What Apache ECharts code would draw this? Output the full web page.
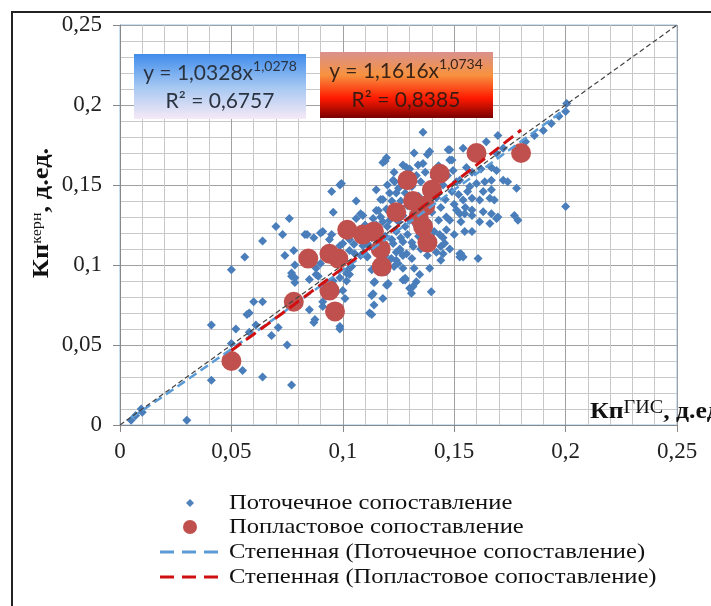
<!DOCTYPE html>
<html>
<head>
<meta charset="utf-8">
<script src="https://cdn.jsdelivr.net/npm/echarts@6/dist/echarts.min.js"></script>
<style>
  html, body { margin: 0; padding: 0; background: #fff; }
  #chart { width: 711px; height: 606px; }
</style>
</head>
<body>
<div id="chart"></div>
<script>
// Поточечное сопоставление: [Кп ГИС, Кп керн]
const pointwise = [
  [0.005,0.003],[0.007,0.006],[0.010,0.008],[0.0095,0.010],[0.030,0.003],
  [0.041,0.028],[0.041,0.0625],[0.050,0.051],[0.052,0.060],[0.055,0.034],
  [0.050,0.097],[0.056,0.105],[0.057,0.069],[0.058,0.070],[0.058,0.058],
  [0.060,0.077],[0.064,0.077],[0.061,0.0625],[0.064,0.030],[0.064,0.115],
  [0.068,0.056],[0.070,0.124],[0.071,0.061],[0.073,0.119],[0.074,0.106],
  [0.075,0.050],[0.076,0.129],[0.077,0.025],[0.077,0.093],[0.0785,0.089],
  [0.078,0.109],[0.0785,0.100],[0.077,0.095],[0.0785,0.092],
  [0.084,0.119],[0.083,0.119],[0.085,0.072],[0.085,0.091],[0.087,0.064],[0.087,0.117],[0.0875,0.066],
  [0.088,0.098],[0.088,0.094],[0.089,0.093],[0.090,0.101],[0.090,0.120],[0.091,0.077],[0.091,0.074],[0.091,0.121],
  [0.094,0.116],[0.095,0.119],[0.095,0.146],[0.0957,0.133],[0.0957,0.090],[0.097,0.083],[0.0987,0.150],[0.0994,0.151],
  [0.0987,0.060],[0.0987,0.0615],[0.0987,0.112],[0.0987,0.101],[0.0987,0.092],[0.100,0.084],[0.100,0.105],[0.100,0.1135],
  [0.101,0.079],[0.1017,0.0948],[0.103,0.094],[0.1017,0.090],[0.1024,0.097],[0.103,0.116],[0.103,0.109],[0.104,0.124],[0.104,0.099],[0.1054,0.107],
  [0.106,0.129],[0.106,0.140],[0.108,0.132],[0.108,0.106],[0.109,0.131],[0.110,0.125],[0.111,0.105],[0.1106,0.106],[0.111,0.1135],[0.112,0.1115],
  [0.112,0.070],[0.113,0.069],[0.113,0.081],[0.1136,0.129],[0.1136,0.082],[0.114,0.075],[0.1143,0.0896],[0.114,0.089],[0.115,0.134],[0.115,0.147],
  [0.116,0.134],[0.117,0.130],[0.118,0.079],[0.118,0.141],[0.118,0.164],[0.119,0.165],[0.1196,0.167],[0.1196,0.135],[0.1196,0.0875],[0.1196,0.096],
  [0.120,0.0875],[0.1204,0.0885],[0.121,0.133],[0.121,0.145],[0.122,0.140],[0.1218,0.104],[0.1226,0.153],[0.1226,0.1135],[0.1233,0.152],[0.123,0.099],
  [0.124,0.103],[0.124,0.145],[0.1248,0.101],[0.1256,0.109],[0.1256,0.110],[0.127,0.1625],[0.127,0.106],[0.127,0.1146],[0.127,0.098],[0.127,0.0906],
  [0.128,0.0906],[0.128,0.0917],[0.1286,0.161],[0.1286,0.107],[0.130,0.0854],[0.1308,0.0823],[0.1315,0.0865],[0.1316,0.1115],[0.132,0.098],[0.132,0.170],
  [0.133,0.0896],[0.1338,0.1625],[0.1345,0.094],[0.136,0.183],[0.136,0.1635],[0.138,0.169],[0.139,0.171],[0.139,0.098],[0.1397,0.0833],[0.1435,0.119],
  [0.144,0.1115],[0.144,0.103],[0.145,0.107],[0.1457,0.1136],[0.1465,0.122],[0.1465,0.130],[0.1473,0.172],[0.148,0.1656],[0.148,0.172],[0.149,0.1656],
  [0.1495,0.159],[0.151,0.1344],[0.1525,0.132],[0.1525,0.153],[0.1525,0.107],[0.1525,0.105],[0.153,0.107],[0.154,0.173],[0.154,0.1406],[0.154,0.105],
  [0.1547,0.132],[0.1547,0.121],[0.1555,0.161],[0.157,0.149],[0.158,0.158],[0.158,0.1417],[0.158,0.1344],[0.158,0.131],[0.158,0.121],[0.160,0.151],
  [0.1607,0.104],[0.1614,0.1406],[0.1614,0.127],[0.162,0.160],[0.163,0.146],[0.163,0.1333],[0.1637,0.152],[0.1644,0.177],[0.166,0.1417],[0.166,0.126],
  [0.1667,0.161],[0.1667,0.153],[0.1667,0.147],[0.1667,0.132],[0.168,0.1406],[0.169,0.1698],[0.169,0.159],[0.169,0.129],[0.1696,0.181],[0.1696,0.130],
  [0.172,0.173],[0.172,0.153],[0.174,0.152],[0.177,0.131],[0.178,0.148],[0.1786,0.128],[0.182,0.177],[0.186,0.181],[0.190,0.184],[0.1936,0.1885],
  [0.197,0.193],[0.200,0.196],[0.2005,0.201],[0.200,0.1365],
  [0.112,0.122],[0.113,0.117],[0.115,0.125],[0.116,0.119],[0.117,0.141],[0.118,0.127],[0.119,0.118],[0.120,0.150],[0.120,0.124],[0.121,0.128],
  [0.122,0.116],[0.123,0.135],[0.123,0.158],[0.124,0.121],[0.125,0.127],[0.125,0.148],[0.126,0.140],[0.126,0.117],[0.127,0.155],[0.127,0.131],
  [0.128,0.124],[0.128,0.145],[0.129,0.119],[0.129,0.137],[0.130,0.128],[0.130,0.160],[0.131,0.149],[0.131,0.114],[0.132,0.133],[0.133,0.125],
  [0.133,0.156],[0.134,0.143],[0.134,0.118],[0.135,0.130],[0.135,0.152],[0.136,0.122],[0.137,0.139],[0.137,0.158],[0.138,0.127],[0.139,0.148],
  [0.139,0.113],[0.140,0.133],[0.141,0.155],[0.141,0.121],[0.142,0.142],[0.143,0.128],[0.143,0.162],[0.144,0.136],[0.145,0.150],[0.146,0.141],
  [0.147,0.156],[0.148,0.128],[0.149,0.146],[0.150,0.138],[0.150,0.119],[0.151,0.152],[0.152,0.144],[0.153,0.127],[0.155,0.136],[0.156,0.146],
  [0.145,0.117],[0.148,0.110],[0.142,0.108],[0.138,0.106],[0.135,0.110],[0.131,0.104],[0.124,0.108],[0.119,0.106],[0.116,0.102],[0.113,0.097],
  [0.109,0.112],[0.107,0.118],[0.105,0.113]
];

// Попластовое сопоставление: [Кп ГИС, Кп керн]
const layerwise = [
  [0.050,0.040],[0.078,0.077],[0.0845,0.104],[0.094,0.084],[0.0965,0.071],
  [0.094,0.107],[0.098,0.104],[0.102,0.122],[0.109,0.119],[0.114,0.121],
  [0.117,0.110],[0.1175,0.099],[0.124,0.133],[0.129,0.153],[0.1315,0.140],
  [0.134,0.130],[0.136,0.124],[0.138,0.114],[0.140,0.147],[0.1435,0.157],
  [0.137,0.137],[0.160,0.170],[0.180,0.170]
];

// Power trend coefficients y = a·x^b and the x-range they cover
const pointwiseFit = [1.0328, 1.0278];
const pointwiseFitRange = [0.005, 0.2];
const layerwiseFit = [1.1616, 1.0734];
const layerwiseFitRange = [0.05, 0.18];

// Reference 1:1 line
const equalityLine = [[0, 0], [0.25, 0.25]];

const axisMin = 0, axisMax = 0.25, axisStep = 0.05;

function powerCurve(coef, range, steps) {
  const out = [];
  for (let i = 0; i <= steps; i++) {
    const x = range[0] + (range[1] - range[0]) * i / steps;
    out.push([x, coef[0] * Math.pow(x, coef[1])]);
  }
  return out;
}

const serif = 'Liberation Serif';
const comma = v => String(+v.toFixed(2)).replace('.', ',');

const chart = echarts.init(document.getElementById('chart'), null, { renderer: 'canvas' });

const legendRows = [
  { y: 503, text: 'Поточечное сопоставление' },
  { y: 527, text: 'Попластовое сопоставление' },
  { y: 552, text: 'Степенная (Поточечное сопоставление)' },
  { y: 577, text: 'Степенная (Попластовое сопоставление)' }
];

const graphics = [
  // outer frame
  { type: 'rect', shape: { x: 12, y: 12, width: 720, height: 620 }, style: { fill: 'none', stroke: '#222', lineWidth: 2 }, z: 100 },
  // equation box (points)
  { type: 'rect', shape: { x: 134, y: 54, width: 172, height: 65 },
    style: { fill: new echarts.graphic.LinearGradient(0, 0, 0, 1, [
      { offset: 0, color: '#3f8cec' }, { offset: 0.5, color: '#a4c7f2' }, { offset: 1, color: '#f6e9f6' }]) }, z: 50 },
  { type: 'text', x: 220, y: 59, z: 51,
    style: { text: '{a|y = 1,0328x}{s|1,0278}', align: 'center', verticalAlign: 'top',
      rich: { a: { fontFamily: 'Lato', fontSize: 21, lineHeight: 28, fill: '#2a3340' },
              s: { fontFamily: 'Lato', fontSize: 14, lineHeight: 13, verticalAlign: 'top', fill: '#2a3340' } } } },
  { type: 'text', x: 220, y: 101, z: 51,
    style: { text: 'R² = 0,6757', align: 'center', verticalAlign: 'middle', fontFamily: 'Lato', fontSize: 21, fill: '#2a3340' } },
  // equation box (layers)
  { type: 'rect', shape: { x: 320, y: 52, width: 173, height: 66 },
    style: { fill: new echarts.graphic.LinearGradient(0, 0, 0, 1, [
      { offset: 0, color: '#d9918c' }, { offset: 0.35, color: '#f7923f' }, { offset: 0.7, color: '#ff1a00' }, { offset: 1, color: '#7a0000' }]) }, z: 50 },
  { type: 'text', x: 406, y: 57, z: 51,
    style: { text: '{a|y = 1,1616x}{s|1,0734}', align: 'center', verticalAlign: 'top',
      rich: { a: { fontFamily: 'Lato', fontSize: 21, lineHeight: 28, fill: '#3a2418' },
              s: { fontFamily: 'Lato', fontSize: 14, lineHeight: 13, verticalAlign: 'top', fill: '#3a2418' } } } },
  { type: 'text', x: 406, y: 100, z: 51,
    style: { text: 'R² = 0,8385', align: 'center', verticalAlign: 'middle', fontFamily: 'Lato', fontSize: 21, fill: '#3a1a10' } },
  // y axis title
  { type: 'text', x: 42, y: 213, rotation: Math.PI / 2, scaleX: 1.15, z: 51,
    style: { text: '{b|Кп}{s|керн}{b|, д.ед.}', align: 'center', verticalAlign: 'middle',
      rich: { b: { fontFamily: serif, fontWeight: 'bold', fontSize: 23, fill: '#111' },
              s: { fontFamily: serif, fontSize: 14, verticalAlign: 'top', lineHeight: 12, fill: '#111' } } } },
  // x axis title
  { type: 'text', x: 590, y: 412, scaleX: 1.12, z: 51,
    style: { text: '{b|Кп}{s|ГИС}{b|, д.ед.}', align: 'left', verticalAlign: 'middle',
      rich: { b: { fontFamily: serif, fontWeight: 'bold', fontSize: 23, lineHeight: 26, fill: '#111' },
              s: { fontFamily: serif, fontSize: 18, verticalAlign: 'top', lineHeight: 15, fill: '#111' } } } }
];

// legend markers and captions
graphics.push({ type: 'polygon', shape: { points: [[190, 499], [194, 503], [190, 507], [186, 503]] }, style: { fill: '#4f81bd' }, z: 51 });
graphics.push({ type: 'circle', shape: { cx: 190, cy: 527, r: 7 }, style: { fill: '#c0504d' }, z: 51 });
graphics.push({ type: 'line', shape: { x1: 160, y1: 552, x2: 226, y2: 552 }, style: { stroke: '#5b9bd5', lineWidth: 3, lineDash: [14, 8] }, z: 51 });
graphics.push({ type: 'line', shape: { x1: 160, y1: 577, x2: 226, y2: 577 }, style: { stroke: '#d01010', lineWidth: 3, lineDash: [14, 8] }, z: 51 });
legendRows.forEach(r => graphics.push({ type: 'text', x: 229, y: r.y, scaleX: 1.17, z: 51,
  style: { text: r.text, fontFamily: serif, fontSize: 21, fill: '#111', verticalAlign: 'middle' } }));

const valueAxis = (extra) => Object.assign({
  type: 'value', min: axisMin, max: axisMax, interval: axisStep,
  axisLine: { show: true, lineStyle: { color: '#888', width: 1 } },
  axisTick: { show: true, length: 7, lineStyle: { color: '#888' } },
  splitLine: { show: true, lineStyle: { color: '#a0a0a0', width: 1 } },
  minorTick: { show: false, splitNumber: 5 },
  minorSplitLine: { show: true, lineStyle: { color: '#c8c8c8', width: 1 } }
}, extra);

chart.setOption({
  animation: false,
  backgroundColor: '#fff',
  grid: { left: 120, top: 25, width: 557, height: 400, show: true, borderColor: '#9dc3e6', borderWidth: 1, backgroundColor: 'transparent' },
  xAxis: valueAxis({ axisLabel: { fontFamily: serif, fontSize: 23, color: '#222', margin: 15, formatter: comma } }),
  yAxis: valueAxis({ axisLabel: { fontFamily: serif, fontSize: 23, color: '#222', margin: 18, formatter: comma } }),
  series: [
    { name: 'Поточечное сопоставление', type: 'scatter', data: pointwise, symbol: 'diamond', symbolSize: 9,
      itemStyle: { color: '#4a7ebb', opacity: 1 }, z: 2 },
    { name: 'Попластовое сопоставление', type: 'scatter', data: layerwise, symbol: 'circle', symbolSize: 20,
      itemStyle: { color: '#c0504d', opacity: 1 }, z: 3 },
    { name: 'Степенная (Поточечное сопоставление)', type: 'line', data: powerCurve(pointwiseFit, pointwiseFitRange, 40),
      showSymbol: false, symbol: 'none', lineStyle: { color: '#5b9bd5', width: 2.5, type: [9, 5] }, z: 4 },
    { name: 'Степенная (Попластовое сопоставление)', type: 'line', data: powerCurve(layerwiseFit, layerwiseFitRange, 40),
      showSymbol: false, symbol: 'none', lineStyle: { color: '#d01010', width: 3, type: [12, 6] }, z: 5 },
    { name: '1:1', type: 'line', data: equalityLine, showSymbol: false, symbol: 'none',
      lineStyle: { color: '#444', width: 1.2, type: [5, 3] }, z: 6 }
  ],
  graphic: graphics
});
</script>
</body>
</html>
